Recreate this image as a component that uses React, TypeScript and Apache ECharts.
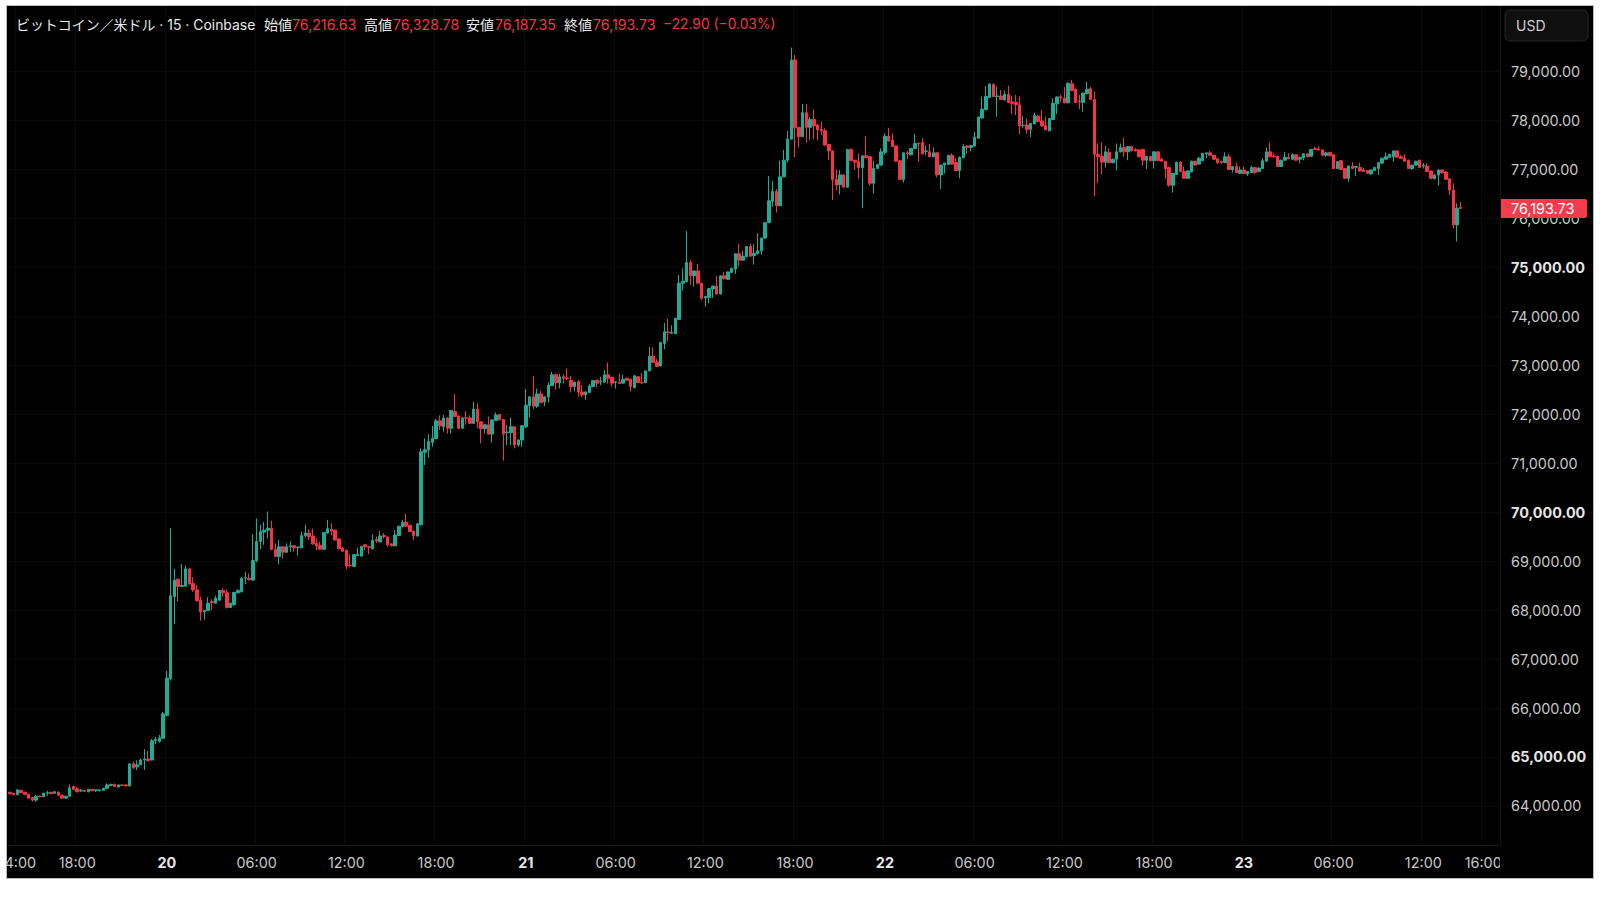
import React, { useEffect, useRef } from "react";
import * as echarts from "echarts";

// Each candle: [open, close, low, high]
const day19 = [
[64280,64250,64240,64290],[64260,64230,64220,64270],[64230,64330,64220,64340],[64320,64270,64260,64330],[64280,64240,64230,64290],[64240,64160,64150,64250],[64170,64120,64090,64180],[64120,64200,64080,64220],[64200,64190,64180,64210],[64190,64260,64180,64270],
[64260,64270,64210,64310],[64280,64250,64240,64290],[64260,64290,64250,64310],[64280,64220,64200,64300],[64220,64160,64150,64230],[64160,64200,64150,64210],[64200,64370,64190,64440],[64400,64340,64330,64410],[64350,64290,64280,64390],[64305,64320,64290,64350],
[64320,64300,64290,64330],[64290,64340,64280,64350],[64340,64310,64300,64350],[64310,64330,64290,64340],[64310,64330,64300,64340],[64320,64360,64310,64370],[64360,64430,64350,64460],[64420,64440,64410,64460],[64440,64400,64390,64460],[64390,64430,64380,64440],
[64430,64420,64410,64440],[64430,64410,64400,64440],[64410,64860,64400,64870],[64860,64780,64760,64905],[64800,64840,64735,64930],[64840,64940,64830,64970],[64940,64960,64735,65160],[64960,64925,64905,65130],[64940,65330,64930,65370],[65330,65360,65260,65415],
[65320,65390,65290,65450],[65380,65880,65370,65920],
];
const day20 = [
[65850,66610,65830,66760],[66600,68290,66560,69670],[68270,68610,67710,68840],[68630,68480,68170,68640],[68480,68500,68480,68940],[68490,68840,68470,68910],[68840,68530,68520,68850],[68540,68410,68370,68670],[68410,68190,68170,68510],[68200,67960,67780,68270],
[67960,67990,67800,68000],[67990,68140,67980,68260],[68170,68150,67990,68220],[68140,68240,68130,68290],[68200,68400,68190,68410],[68400,68350,68270,68440],[68350,68050,68030,68420],[68050,68140,68040,68150],[68110,68360,68080,68370],[68350,68400,68340,68420],
[68370,68650,68360,68670],[68650,68660,68530,68780],[68650,68620,68600,68750],[68610,69010,68600,69550],[69010,69400,68970,69870],[69400,69600,69240,69740],[69590,69630,69330,69800],[69630,69670,69460,70010],[69670,69240,69220,69820],[69240,69090,69080,69360],
[69090,69290,68930,69430],[69290,69180,69050,69300],[69180,69290,69160,69360],[69290,69310,69190,69400],[69310,69270,69190,69320],[69275,69285,69110,69300],[69270,69520,69260,69600],[69520,69570,69480,69740],[69570,69500,69430,69650],[69510,69350,69330,69660],
[69360,69310,69220,69460],[69320,69240,69220,69390],[69240,69580,69230,69590],[69570,69660,69560,69840],[69650,69610,69520,69770],[69630,69430,69420,69640],[69450,69250,69240,69460],[69260,69200,69190,69290],[69220,68900,68830,69230],[68915,68905,68870,69140],
[68890,69130,68880,69140],[69110,69140,69100,69270],[69100,69300,69090,69310],[69330,69290,69220,69340],[69290,69280,69140,69300],[69250,69420,69240,69540],[69440,69410,69370,69500],[69390,69510,69380,69610],[69520,69500,69460,69570],[69490,69330,69290,69500],
[69350,69310,69300,69360],[69310,69530,69300,69630],[69520,69710,69510,69720],[69700,69790,69690,69840],[69790,69710,69700,69960],[69730,69600,69590,69740],[69610,69520,69430,69620],[69510,69760,69500,69770],[69740,71230,69720,71300],[71220,71270,70960,71500],
[71270,71440,71110,71590],[71420,71500,71330,71760],[71500,71860,71490,71900],[71860,71760,71670,71970],[71740,71920,71640,71980],[71920,71710,71600,71930],[71710,72070,71600,72080],[72050,71950,71940,72410],[71960,71710,71690,71970],[71710,71920,71700,71930],
[71925,71915,71780,72060],[71920,71810,71800,71970],[71810,72100,71800,72250],[72100,71840,71710,72220],[71840,71700,71400,71850],[71700,71780,71600,71790],[71780,71590,71580,71950],[71590,71880,71420,71890],[71870,71980,71860,72030],[71990,71880,71870,72000],
[71890,71590,71050,71900],[71620,71630,71360,71780],[71620,71740,71370,71930],[71740,71370,71300,71750],[71370,71470,71330,71480],[71470,71760,71330,71770],
];
const day21 = [
[71740,72180,71710,72510],[72170,72350,71930,72360],[72350,72160,72100,72780],[72160,72410,72120,72520],[72410,72230,72220,72470],[72250,72350,72160,72360],[72350,72590,72230,72640],[72580,72800,72570,72860],[72800,72640,72500,72830],[72640,72760,72520,72820],
[72760,72730,72620,72810],[72735,72725,72690,72930],[72690,72560,72440,72780],[72560,72650,72460,72660],[72660,72450,72350,72690],[72450,72390,72350,72590],[72390,72450,72290,72460],[72440,72570,72430,72610],[72560,72680,72550,72690],[72690,72630,72540,72700],
[72655,72670,72590,72760],[72650,72800,72640,72900],[72800,72730,72620,73050],[72750,72630,72560,72760],[72650,72660,72520,72670],[72650,72625,72610,72820],[72630,72710,72620,72800],[72730,72690,72680,72740],[72710,72560,72460,72720],[72540,72780,72520,72790],
[72760,72640,72630,72770],[72645,72635,72620,72840],[72640,72880,72630,72890],[72880,73180,72870,73370],[73180,73050,73040,73360],[73060,72970,72960,73120],[72980,73460,72970,73470],[73440,73680,73320,73860],[73675,73660,73480,73950],[73650,73665,73640,73810],
[73640,73950,73630,73960],[73930,74670,73920,74840],[74670,74710,74520,74970],[74700,75090,74690,75730],[75090,74820,74630,75140],[74820,74920,74600,74930],[74920,74670,74660,75060],[74670,74360,74330,74680],[74370,74400,74190,74410],[74380,74560,74260,74570],
[74550,74610,74370,74620],[74610,74450,74440,74820],[74450,74820,74440,74830],[74820,74760,74750,74900],[74750,74900,74740,74910],[74890,74970,74880,74990],[74960,75270,74860,75280],[75270,75140,75010,75470],[75140,75220,75130,75330],[75210,75420,75200,75430],
[75420,75220,75210,75470],[75230,75280,75050,75470],[75270,75330,75260,75690],[75330,75590,75250,75600],[75590,75905,75580,75920],[75905,76350,75900,76860],[76340,76540,76230,76760],[76540,76250,76110,76590],[76250,76840,76240,77170],[76840,77180,76830,77390],
[77180,77610,77130,77780],[77610,79225,77600,79480],[79225,77840,77240,79330],[77850,77660,77440,77860],[77660,78150,77650,78330],[78150,77850,77540,78330],[77850,78010,77590,78060],[78010,77880,77610,78220],[77900,77800,77590,77910],[77810,77780,77690,77970],
[77780,77490,77480,77830],[77500,77370,77180,77510],[77370,76780,76370,77380],[76790,76670,76570,76990],[76680,76880,76480,76980],[76880,76630,76620,76890],[76630,77400,76620,77410],[77400,77170,77160,77420],[77180,77140,76980,77190],[77150,77030,76800,77320],
[77030,77270,76200,77280],[77270,77230,77220,77670],[77250,76710,76660,77260],[76710,77010,76500,77170],[77010,77090,77000,77100],[77080,77350,77070,77420],
];
const day22 = [
[77340,77670,77290,77730],[77670,77570,77560,77840],[77590,77460,77450,77730],[77470,77160,77150,77480],[77170,76790,76780,77180],[76790,77330,76720,77340],[77330,77310,77200,77370],[77290,77420,77280,77430],[77420,77520,77410,77720],[77530,77520,77150,77540],
[77540,77310,77300,77630],[77360,77370,77280,77480],[77350,77250,77240,77510],[77250,77330,77240,77440],[77330,76880,76830,77340],[76880,77080,76590,77090],[77080,77120,76910,77130],[77090,77280,77080,77290],[77280,77100,77090,77320],[77130,76970,76960,77220],
[76970,77240,76810,77250],[77230,77460,77220,77510],[77470,77440,77310,77480],[77440,77480,77360,77490],[77470,77650,77460,77760],[77630,78060,77620,78070],[78040,78220,78030,78480],[78210,78480,78200,78690],[78460,78735,78450,78745],[78730,78480,78470,78740],
[78480,78490,78070,78680],[78490,78420,78410,78610],[78410,78520,78400,78600],[78520,78360,78350,78700],[78370,78340,78120,78490],[78360,78310,78100,78510],[78310,77880,77710,78480],[77885,77895,77840,78080],[77900,77810,77720,78030],[77810,77930,77650,77940],
[77920,78090,77910,78150],[78080,77970,77960,78100],[77980,77880,77870,78200],[77890,77800,77790,78070],[77780,78030,77770,78040],[78010,78340,78000,78440],[78330,78470,78120,78480],[78475,78460,78370,78510],[78450,78350,78340,78670],[78350,78750,78340,78770],
[78740,78600,78590,78820],[78630,78360,78350,78640],[78385,78370,78220,78510],[78360,78550,78170,78560],[78540,78630,78530,78780],[78640,78420,78410,78680],[78420,77300,76450,78580],[77300,77250,76710,77520],[77260,77140,76890,77540],[77140,77350,77030,77470],
[77340,77130,77120,77420],[77130,77200,77120,77210],[77200,77350,76970,77520],[77350,77440,77340,77520],[77440,77350,77250,77640],[77350,77460,77180,77470],[77460,77370,77360,77470],[77400,77370,77360,77420],[77390,77250,77240,77400],[77400,77180,77070,77410],
[77180,77260,77000,77270],[77260,77170,77160,77270],[77170,77350,77010,77360],[77350,77170,77160,77360],[77200,77160,77150,77230],[77160,77010,76810,77170],[77030,76670,76640,77040],[76670,76910,76520,76920],[76890,77140,76880,77150],[77140,76950,76940,77160],
[76950,76810,76800,77050],[76810,76960,76800,76970],[76940,77160,76930,77170],[77160,77080,77070,77170],[77100,77220,77090,77250],[77170,77320,77160,77330],[77310,77330,77220,77340],[77330,77280,77270,77370],[77280,77200,77190,77290],[77210,77130,77100,77220],
[77155,77135,77100,77170],[77130,77250,77120,77340],[77250,76990,76980,77310],[76990,77050,76930,77060],[77050,76930,76920,77130],[76910,76980,76900,77050],
];
const day23 = [
[76980,76910,76900,77050],[76900,76950,76860,76960],[76930,77030,76920,77070],[77030,76930,76890,77040],[76950,77020,76940,77030],[77010,77170,77000,77220],[77160,77350,77150,77440],[77350,77250,77240,77540],[77265,77250,77240,77320],[77260,77050,77040,77270],
[77050,77180,77040,77190],[77180,77240,77170,77350],[77240,77210,77200,77320],[77200,77290,77190,77320],[77290,77180,77170,77300],[77200,77240,77120,77250],[77230,77310,77180,77320],[77310,77250,77240,77320],[77260,77400,77250,77410],[77415,77400,77390,77460],
[77410,77390,77380,77460],[77390,77280,77270,77400],[77280,77330,77250,77340],[77340,77270,77260,77350],[77290,77010,77000,77300],[77010,77150,77000,77160],[77170,76990,76980,77180],[77010,76810,76800,77020],[76810,77060,76740,77070],[77060,77010,77000,77140],
[77035,77050,76860,77060],[77030,76960,76950,77130],[76980,76950,76940,77030],[76970,76910,76900,76980],[76900,76980,76890,76990],[76970,77030,76960,77050],[77010,77130,76880,77140],[77120,77220,77110,77230],[77200,77250,77190,77340],[77240,77300,77230,77310],
[77250,77370,77150,77380],[77370,77240,77230,77380],[77250,77220,77210,77290],[77220,77160,77150,77300],[77180,77010,77000,77190],[77010,77080,76980,77090],[77080,77160,77070,77170],[77180,77030,77020,77190],[77060,77075,77010,77120],[77060,76950,76940,77120],
[76960,76810,76800,76970],[76800,76880,76790,76890],[76880,76980,76660,76990],[76980,76920,76910,76990],[76940,76790,76780,76950],[76800,76570,76470,76810],[76570,75860,75790,76710],[75860,76200,75520,76300],[76216.63,76193.73,76187.35,76328.78],
];

const priceTicks = [64000,65000,66000,67000,68000,69000,70000,71000,72000,73000,74000,75000,76000,77000,78000,79000];
const timeTicks = ["19 14:00","19 18:00","20 00:00","20 06:00","20 12:00","20 18:00","21 00:00","21 06:00","21 12:00","21 18:00","22 00:00","22 06:00","22 12:00","22 18:00","23 00:00","23 06:00","23 12:00","23 16:00"];

const headerName = "ビットコイン／米ドル · 15 · Coinbase";
const headerValues = [["始値","76,216.63"],["高値","76,328.78"],["安値","76,187.35"],["終値","76,193.73"]];
const headerChange = "−22.90 (−0.03%)";
const lastPriceText = "76,193.73";
const lastPrice = 76193.73;

const UP = "#22ab94";
const DOWN = "#f23645";
const FONT = "Inter, 'Noto Sans CJK JP', sans-serif";

const pad = (n: number) => String(n).padStart(2, "0");
const categories: string[] = [];
for (let i = 0; i < 399; i++) {
  const m = 13 * 60 + 30 + i * 15;
  categories.push(`${19 + Math.floor(m / 1440)} ${pad(Math.floor(m / 60) % 24)}:${pad(m % 60)}`);
}
const tickIndexes = new Set(timeTicks.map((t) => categories.indexOf(t)));
const candles = [...day19, ...day20, ...day21, ...day22, ...day23];

export default function App() {
  const ref = useRef<HTMLDivElement>(null);
  useEffect(() => {
    document.body.style.margin = "0";
    document.body.style.background = "#fff";
    const chart = echarts.init(ref.current!, undefined, { renderer: "svg" });
    const headerX = [257, 357, 459, 557];
    const valueX = [285, 386, 488, 586];
    const baseText = { fontFamily: FONT, fontSize: 14, verticalAlign: "middle" as const };
    chart.setOption({
      animation: false,
      backgroundColor: "#000",
      grid: { left: 1, right: 93, top: 0, bottom: 33, outerBoundsMode: "none" },
      xAxis: {
        type: "category",
        data: categories,
        boundaryGap: true,
        axisLine: { show: true, lineStyle: { color: "#161616" } },
        axisTick: { show: false, alignWithLabel: true, interval: (i: number) => tickIndexes.has(i) },
        splitLine: { show: true, interval: (i: number) => tickIndexes.has(i), lineStyle: { color: "#0a0a0a", width: 1 } },
        axisLabel: {
          interval: (i: number) => tickIndexes.has(i),
          margin: 10,
          color: "#c8c8c8",
          fontFamily: FONT,
          fontSize: 14.4,
          formatter: (v: string) => {
            const [d, t] = v.split(" ");
            return t === "00:00" ? `{b|${d}}` : t;
          },
          rich: { b: { fontFamily: FONT, fontSize: 14.4, fontWeight: 700, color: "#e6e6e6" } },
        },
      },
      yAxis: {
        type: "value",
        position: "right",
        min: 63204,
        max: 80327,
        axisLine: { show: true, lineStyle: { color: "#161616" } },
        axisTick: { show: false, customValues: priceTicks },
        splitLine: { show: true, lineStyle: { color: "#0a0a0a", width: 1 } },
        axisLabel: {
          customValues: priceTicks,
          margin: 11,
          color: "#c8c8c8",
          fontFamily: FONT,
          fontSize: 14.4,
          formatter: (v: number) => {
            const s = v.toLocaleString("en-US", { minimumFractionDigits: 2, maximumFractionDigits: 2 });
            return v % 5000 === 0 ? `{b|${s}}` : s;
          },
          rich: { b: { fontFamily: FONT, fontSize: 14.4, fontWeight: 700, color: "#e6e6e6" } },
        },
      },
      series: [
        {
          type: "candlestick",
          data: candles,
          barWidth: 3,
          itemStyle: { color: UP, color0: DOWN, borderColor: UP, borderColor0: DOWN, borderWidth: 1 },
        },
      ],
    });
    const tagY = chart.convertToPixel({ yAxisIndex: 0 }, lastPrice) as number;
    chart.setOption({
      graphic: [
        { type: "rect", z: 100, shape: { x: 1493, y: 840, width: 93, height: 32 }, style: { fill: "#000" } },
        { type: "text", z: 110, x: 9, y: 18, style: { ...baseText, fontSize: 13.95, text: headerName, fill: "#e8e8e8" } },
        ...headerValues.flatMap(([k, v], i) => [
          { type: "text", z: 110, x: headerX[i], y: 18, style: { ...baseText, text: k, fill: "#e8e8e8" } },
          { type: "text", z: 110, x: valueX[i], y: 18, style: { ...baseText, fontSize: 14.2, text: v, fill: DOWN } },
        ]),
        { type: "text", z: 110, x: 656, y: 18, style: { ...baseText, fontSize: 13.8, text: headerChange, fill: DOWN } },
        { type: "rect", z: 110, shape: { x: 1498, y: 4, width: 83, height: 31, r: 5 }, style: { fill: "#0f0f0f", stroke: "#262626", lineWidth: 1 } },
        { type: "text", z: 111, x: 1509, y: 19, style: { ...baseText, text: "USD", fill: "#d0d0d0" } },
        { type: "rect", z: 110, shape: { x: 1494, y: tagY - 9.5, width: 86, height: 19, r: [0, 2, 2, 0] }, style: { fill: "#f53b4c" } },
        { type: "text", z: 111, x: 1504, y: tagY, style: { ...baseText, fontSize: 14.4, text: lastPriceText, fill: "#fff" } },
      ],
    });
    return () => chart.dispose();
  }, []);
  return (
    <div style={{ position: "fixed", left: 0, top: 0, width: 1600, height: 900, background: "#fff" }}>
      <div
        ref={ref}
        style={{ position: "absolute", left: 7, top: 6, width: 1586, height: 872, boxShadow: "0 0 0 1px #bdbdbd" }}
      />
    </div>
  );
}
